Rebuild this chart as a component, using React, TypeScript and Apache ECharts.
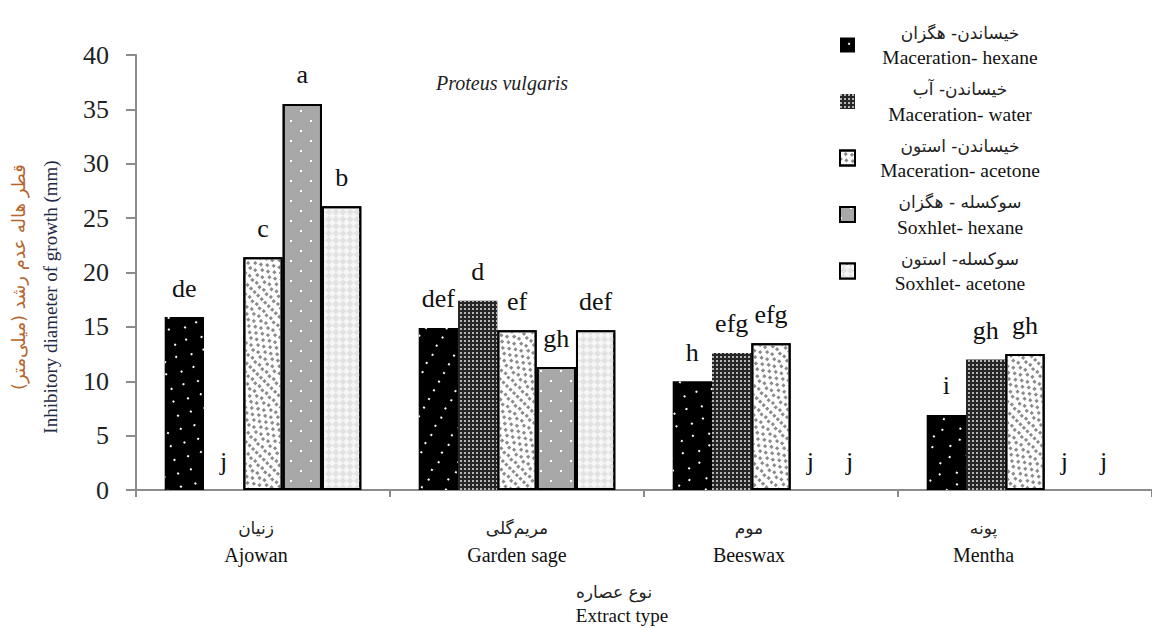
import React, { useEffect, useRef } from 'react';
import * as echarts from 'echarts';

const SERIF = "'Liberation Serif', 'Times New Roman', serif";
const FA = "'DejaVu Sans', 'Noto Sans', sans-serif";

// ---- data ----
const categoriesFa = ['زنیان', 'مریم‌گلی', 'موم', 'پونه'];
const categoriesEn = ['Ajowan', 'Garden sage', 'Beeswax', 'Mentha'];

const seriesFa = ['خیساندن- هگزان', 'خیساندن- آب', 'خیساندن- استون', 'سوکسله - هگزان', 'سوکسله- استون'];
const seriesEn = ['Maceration- hexane', 'Maceration- water', 'Maceration- acetone', 'Soxhlet- hexane', 'Soxhlet- acetone'];

const macerationHexane = [15.9, 14.9, 10.0, 6.9];
const macerationWater = [0, 17.4, 12.6, 12.0];
const macerationAcetone = [21.4, 14.7, 13.5, 12.5];
const soxhletHexane = [35.5, 11.3, 0, 0];
const soxhletAcetone = [26.1, 14.7, 0, 0];

const lettersMacerationHexane = ['de', 'def', 'h', 'i'];
const lettersMacerationWater = ['j', 'd', 'efg', 'gh'];
const lettersMacerationAcetone = ['c', 'ef', 'efg', 'gh'];
const lettersSoxhletHexane = ['a', 'gh', 'j', 'j'];
const lettersSoxhletAcetone = ['b', 'def', 'j', 'j'];

const yMin = 0;
const yMax = 40;
const yInterval = 5;

const titleText = 'Proteus vulgaris';
const yNameFa = 'قطر هاله عدم رشد (میلی‌متر)';
const yNameEn = 'Inhibitory diameter of growth (mm)';
const xNameFa = 'نوع عصاره';
const xNameEn = 'Extract type';

// ---- styles (layout only) ----
const labelShift = [14, 0, 44, 83];

const seriesStyles: any[] = [
  {
    color: '#000000', borderColor: '#000', borderWidth: 0,
    decal: { symbol: 'rect', symbolSize: 1, color: '#ffffff', dashArrayX: [[2, 17], [0, 9.5, 2, 7.5]], dashArrayY: [2, 8] },
  },
  {
    color: '#262626', borderColor: '#262626', borderWidth: 0,
    decal: { symbol: 'rect', symbolSize: 1, color: '#b4b4b4', dashArrayX: [2, 2], dashArrayY: [2, 2] },
  },
  {
    color: '#ffffff', borderColor: '#000', borderWidth: 2,
    decal: { symbol: 'rect', symbolSize: 1, color: '#8a8a8a', dashArrayX: [[3, 4], [0, 3.5, 3, 0.5]], dashArrayY: [3, 2] },
  },
  {
    color: '#a8a8a8', borderColor: '#000', borderWidth: 2,
    decal: { symbol: 'rect', symbolSize: 1, color: '#ffffff', dashArrayX: [[2, 18], [0, 10, 2, 8]], dashArrayY: [2, 8] },
  },
  {
    color: '#f6f6f6', borderColor: '#000', borderWidth: 2,
    decal: { symbol: 'rect', symbolSize: 1, color: '#e2e2e2', dashArrayX: [[5, 5], [0, 5, 5, 0]], dashArrayY: [5, 0] },
  },
];

export default function App() {
  const ref = useRef<HTMLDivElement>(null);

  useEffect(() => {
    document.body.style.margin = '0';
    const chart = echarts.init(ref.current!, null, { renderer: 'svg' });

    const values = [macerationHexane, macerationWater, macerationAcetone, soxhletHexane, soxhletAcetone];
    const letters = [lettersMacerationHexane, lettersMacerationWater, lettersMacerationAcetone, lettersSoxhletHexane, lettersSoxhletAcetone];

    const rich: any = {};
    categoriesEn.forEach((_, i) => {
      rich['fa' + i] = { fontFamily: FA, fontSize: 17, color: '#222', lineHeight: 27, padding: [0, labelShift[i], 0, 0] };
      rich['en' + i] = { fontFamily: SERIF, fontSize: 20, color: '#111', lineHeight: 27, padding: [0, labelShift[i], 0, 0] };
    });

    const series = values.map((vals, s) => ({
      type: 'bar',
      name: seriesEn[s],
      barGap: '0%',
      barCategoryGap: '22.6%',
      itemStyle: seriesStyles[s],
      data: vals.map((v) => (v === 0 ? { value: v, itemStyle: { borderWidth: 0 } } : v)),
      label: {
        show: true,
        position: 'top',
        distance: 16,
        formatter: (p: any) => letters[s][p.dataIndex],
        fontFamily: SERIF,
        fontSize: 26,
        color: '#111',
      },
    }));

    const option: any = {
      animation: false,
      aria: { enabled: true, decal: { show: true } },
      backgroundColor: '#ffffff',
      grid: { left: 136, top: 55, width: 1028, height: 435, containLabel: false },
      legend: {
        orient: 'vertical',
        left: 834,
        top: 19,
        itemWidth: 15,
        itemHeight: 15,
        itemGap: 13,
        icon: 'rect',
        selectedMode: false,
        data: seriesEn,
        formatter: (name: string) => {
          const i = seriesEn.indexOf(name);
          return `{fa|${seriesFa[i]}}\n{en|${seriesEn[i]}}`;
        },
        textStyle: {
          rich: {
            fa: { fontFamily: FA, fontSize: 17, color: '#222', width: 200, align: 'center', lineHeight: 25 },
            en: { fontFamily: SERIF, fontSize: 19.5, color: '#111', width: 200, align: 'center', lineHeight: 25 },
          },
        },
      },
      xAxis: {
        type: 'category',
        data: categoriesEn,
        axisLine: { show: true, lineStyle: { color: '#8c8c8c', width: 2 } },
        axisTick: { show: true, length: 7, lineStyle: { color: '#8c8c8c', width: 2 } },
        axisLabel: {
          margin: 24,
          interval: 0,
          formatter: (v: string, i: number) => `{fa${i}|${categoriesFa[i]}}\n{en${i}|${v}}`,
          rich,
        },
      },
      yAxis: {
        type: 'value',
        min: yMin,
        max: yMax,
        interval: yInterval,
        splitLine: { show: false },
        axisLine: { show: true, lineStyle: { color: '#8c8c8c', width: 2 } },
        axisTick: { show: true, length: 10, lineStyle: { color: '#8c8c8c', width: 2 } },
        axisLabel: { margin: 27, fontFamily: SERIF, fontSize: 26, color: '#222' },
      },
      graphic: [
        {
          type: 'text', x: 502, y: 83,
          style: { text: titleText, font: "italic 20px 'Liberation Serif', serif", fill: '#222', textAlign: 'center', textVerticalAlign: 'middle' },
        },
        {
          type: 'text', x: 18, y: 277, rotation: Math.PI / 2,
          style: { text: yNameFa, font: "18px 'DejaVu Sans', sans-serif", fill: '#b5652e', textAlign: 'center', textVerticalAlign: 'middle' },
        },
        {
          type: 'text', x: 50, y: 297, rotation: Math.PI / 2,
          style: { text: yNameEn, font: "19px 'Liberation Serif', serif", fill: '#1f2a44', textAlign: 'center', textVerticalAlign: 'middle' },
        },
        {
          type: 'text', x: 614, y: 592,
          style: { text: xNameFa, font: "17px 'DejaVu Sans', sans-serif", fill: '#222', textAlign: 'center', textVerticalAlign: 'middle' },
        },
        {
          type: 'text', x: 622, y: 615,
          style: { text: xNameEn, font: "19px 'Liberation Serif', serif", fill: '#111', textAlign: 'center', textVerticalAlign: 'middle' },
        },
      ],
      series,
    };

    chart.setOption(option);
    return () => chart.dispose();
  }, []);

  return <div ref={ref} style={{ width: 1152, height: 628 }} />;
}
